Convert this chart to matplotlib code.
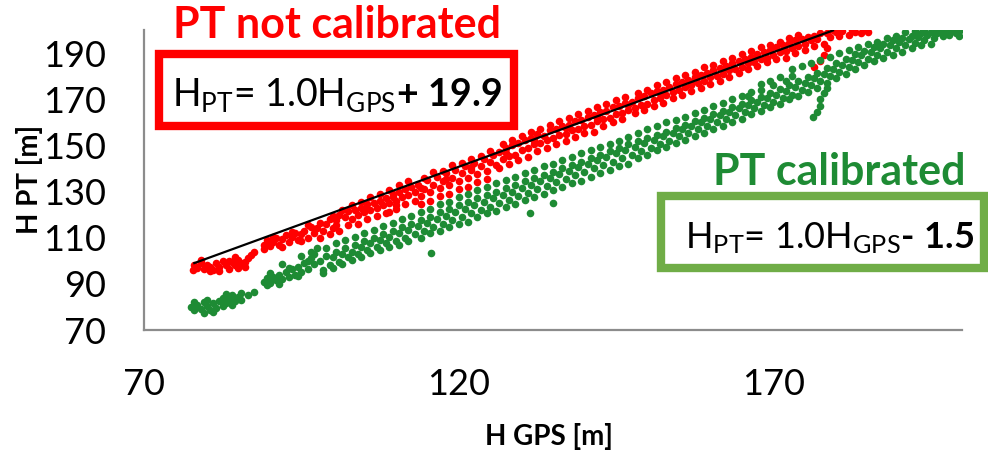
import matplotlib
matplotlib.use("Agg")
import matplotlib.pyplot as plt
from matplotlib.patches import Rectangle

# ---------------- data ----------------
red_points = [
    (78,98),(78.5,97),(79,99),(79.5,96.5),(80,98),(80.5,97.5),(81,96),(81.5,99),(82,97.5),(82.5,100),
    (83,98),(83.5,96.5),(84,99.5),(84.5,98),(85,100.5),(85.5,99),(86,97.5),(86.5,101),(87,102.5),(87.5,104),
    (79,100.5),(80.5,95.5),(82,95.5),(83.5,100),(85,97),(86,99.5),(77.8,96),(84.5,101.5),
    (89,107),(89.5,109),(90,106.5),(90.5,108),(91,110),(91.5,107),(92,109.5),(92.5,111),(93,108),(93.5,110.5),
    (94,112),(94.5,109),(95,111.5),(95.5,113),(96,110),(96.5,114.5),(97,112),
    (89,105),(90.5,110.5),(92,106),(93.5,112.5),(95,108.5),(96,115.5),(97.5,114),
    (98.5,113),(99,116),(99.5,118),(100,114),(100.5,117.5),(101,120),
    (102,119),(102.5,121.5),(103,118),(103.5,122),(104,120),(104.5,123),(105,121),(105.5,124.5),(106,122),
    (106.5,125),(107,123),(107.5,126),(108,124),(108.5,127),(109,125),(109.5,129),(110,126),(110.5,130),
    (111,127.5),(111.5,131),(112,128.5),(112.5,132),(113,130),(109,121),(110,122.5),
    (98,110),(99.5,111.5),(101,113),(102.5,115.5),(104,116),(105.5,118),(107,119.5),(108.5,120.5),
    (110,124),(111.5,124.5),(113,126),
    (98,116.5),(100,119.5),(101.5,122),(103,124),(104.5,125.5),(106,127.5),(107.5,129),(109,130.5),
    (110.5,133),(112,134.5),
    (113.5,133),(114,128),(114.5,131),(115,135),(115.5,130),(116,133),(116.5,136.5),(117,131.5),(117.5,134.5),
    (118,138),(118.5,133),(119,136),(119.5,139.5),(120,134.5),(120.5,138),(121,141),(121.5,136),(122,139.5),
    (122.5,142.5),(123,137.5),(123.5,141),(124,144),(124.5,139),(125,143),(125.5,146),
    (114,124.5),(115.5,126),(117,128),(118.5,129),(120,131),(121.5,132),(123,134),(124.5,135.5),
    (114.5,136),(116,138.5),(117.5,139),(119,141.5),(120.5,142.5),(122,144),(123.5,145.5),(125,147.5),
    (126,141.5),(126.5,147),(127,144),(127.5,149),(128,145.5),(128.5,150),(129,146),(129.5,151),(130,148),
    (130.5,152.5),(131,149),(131.5,153),(132,150.5),(132.5,155),(133,151),(133.5,154),(134,152.5),(134.5,156.5),
    (135,153),(135.5,157),(136,154.5),(136.5,158.5),(137,155),(137.5,159),(138,156.5),(138.5,160.5),(139,157),
    (139.5,161),(140,158.5),(140.5,162.5),(141,159),(141.5,163),(142,160.5),(142.5,164.5),(143,161.5),
    (143.5,165),(144,162),(144.5,166.5),(145,163.5),(145.5,167),(146,164),(146.5,168.5),(147,165.5),
    (126.5,140),(128,142),(129.5,143.5),(131,145),(132.5,147.5),(134,149),(135.5,150.5),(137,152),
    (138.5,153.5),(140,155.5),(141.5,156),(143,158.5),(144.5,160),(146,161.5),
    (127,150.5),(128.5,152.5),(130,154),(131.5,156),(133,157),(134.5,159),(136,160.5),(137.5,162),
    (139,163.5),(140.5,165),(142,166.5),(143.5,168),(145,169.5),(146.5,171),
    (147.5,169),(148,166),(148.5,170.5),(149,167.5),(149.5,171.5),(150,168),(150.5,172.5),(151,169.5),
    (151.5,173.5),(152,170.5),(152.5,174),(153,172),(153.5,175.5),(154,173),(154.5,176.5),(155,174),
    (155.5,177.5),(156,175.5),(156.5,178.5),(157,176),(157.5,179.5),(158,177),(158.5,180.5),(159,178),
    (159.5,181.5),(160,179.5),(160.5,182.5),(161,180),(161.5,183.5),(162,181),(162.5,184.5),(163,182.5),
    (163.5,185.5),(164,183),(164.5,186.5),(165,184),(165.5,187.5),(166,185.5),(166.5,188.5),(167,186),
    (167.5,189.5),(168,187.5),(168.5,190.5),(169,188),(169.5,191.5),(170,189),(170.5,192.5),(171,190.5),
    (171.5,193.5),(172,191),(172.5,194.5),(173,192),(173.5,195.5),(174,193),(174.5,196),(175,194),
    (175.5,197),(176,195.5),(176.5,197.5),(177,196),
    (148,164),(149.5,165.5),(151,167),(152.5,168.5),(154,170.5),(155.5,172),(157,173.5),(158.5,175),
    (160,176.5),(161.5,178),(163,179.5),(164.5,181.5),(166,183),(167.5,184.5),(169,186),(170.5,187.5),
    (148.5,172.5),(150,174),(151.5,176),(153,177.5),(154.5,179),(156,180.5),(157.5,182),(159,184),
    (160.5,185),(162,186.5),(163.5,188),(165,189.5),(166.5,191),(168,192.5),(169.5,193.5),(171,195),
    (172.5,196.5),(174,198),
    (100.5,115.5),(105,122.5),(109.5,127.5),(114,131.5),(118,135.5),(122,140.5),(127.5,146.5),(132,152.5),
    (137,157.5),(142,162.5),(147,167.5),(152,172.5),(157,177.5),(162,183),(167,188),(171.5,191.5),
    (176.5,184),(177.5,186.5),(178,189),(178.5,192),(178,194),
    (172,188),(173.5,190),(175,191.5),(176.5,193),(177.5,198.5),(179.5,199.8),(182.5,200),(184.5,200),
    (178.5,198.5),(179,197),(180,199),(180.5,197.5),(181,199.5),(182,198),(183,199),(184,198.5),(185,199),
]

green_points = [
    (77.5,80),(78,78.5),(78.5,81),(79,79),(79.5,82),(80,80.5),(80.5,78.5),(81,81.5),(81.5,79.5),(82,82.5),
    (82.5,84),(83,81.5),(83.5,83),(84,85),(84.5,82.5),(85,84.5),(85.5,86),(86.5,85),(87.5,86.5),
    (78,82),(79.5,77.5),(81,78),(82.5,80.5),(84,81),(85.5,83),(80,83),(83,85.5),
    (89,91),(89.5,92.5),(90,90.5),(90.5,93),(91,91.5),(91.5,94),(92,92),(92.5,95),(93,93),(93.5,96.5),
    (94,94),(94.5,97.5),(95,95),(95.5,99),(96,96.5),(96.5,101),(97,98.5),(97,103),(97.5,105.5),(96.5,104),
    (90,94.5),(91.5,90),(93,97),(94.5,93.5),(96,100),(92,98.5),(95,102),(89.5,89.5),
    (98,100),(98.5,96),(99,102),(99.5,98),(100,101.5),(100.5,104),(101,99.5),(101.5,103),(102,105.5),
    (102.5,101.5),(103,104),(103.5,107),(104,103),(104.5,106),(105,108.5),(105.5,104.5),(106,107.5),
    (106.5,110),(107,106),(107.5,109),(108,111.5),(108.5,107.5),(109,110.5),(109.5,113),(110,108.5),
    (110.5,112),(111,114.5),(111.5,110),(112,113.5),(112.5,116),(113,111.5),
    (98.5,94.5),(100,97),(101.5,98.5),(103,100.5),(104.5,101.5),(106,103.5),(107.5,104.5),(109,106),
    (110.5,107),(112,108.5),
    (99,105.5),(100.5,107.5),(102,109),(103.5,110.5),(105,112),(106.5,113.5),(108,115),(109.5,116.5),
    (111,118),(112.5,119.5),
    (113.5,115),(114,117.5),(114.5,113),(115,116.5),(115.5,119),(115.6,103.5),(116,114.5),(116.5,118),
    (117,121),(117.5,116),(118,119.5),(118.5,122.5),(119,117.5),(119.5,121),(120,124),(120.5,119),
    (121,122.5),(121.5,125.5),(122,120.5),(122.5,124),(123,127),(123.5,122),(124,125.5),(124.5,128.5),
    (125,123.5),(125.5,127),(126,130),(126.5,125),(127,128.5),(127.5,131.5),(128,126.5),
    (128.5,130),(129,133),(129.5,128),(130,131.5),(130.5,134.5),(131,129.5),(131.4,120.6),(131.5,133),
    (132,136),(132.5,131),(133,134.5),(133.5,137),(134,132.5),(134.5,136),(135,138.5),(135,125),
    (135.5,134),(136,137.5),(136.5,140),(137,135.5),(137.5,139),(138,141.5),(138.5,137),(139,140.5),
    (139.5,143),(140,138.5),(140.5,142),(141,144.5),(141.5,140),(142,143.5),(142.5,146),(143,141.5),
    (143.5,145),(144,147.5),(144.5,143),(145,146.5),(145.5,149),(146,144.5),(146.5,148),(147,150.5),
    (114,110),(115.5,112),(117,113),(118.5,114.5),(120,116),(121.5,117),(123,119),(124.5,120.5),
    (126,121.5),(127.5,123.5),(129,124.5),(130.5,126.5),(132,127.5),(133.5,129),(135,130.5),(136.5,132),
    (138,133.5),(139.5,134.5),(141,136.5),(142.5,138),(144,139.5),(145.5,141),(147,142),
    (114,121),(115.5,122.5),(117,124.5),(118.5,125.5),(120,127.5),(121.5,129),(123,130.5),(124.5,132),
    (126,133.5),(127.5,135),(129,136.5),(130.5,138),(132,139.5),(133.5,141),(135,142),(136.5,143.5),
    (138,145),(139.5,146.5),(141,148),(142.5,149.5),(144,150.5),(145.5,152),(147,153.5),
    (147.5,146),(148,149.5),(148.5,152),(149,147.5),(149.5,151),(150,153),(150.5,149),(151,152.5),
    (151.5,154.5),(152,150.5),(152.5,154),(153,156),(153.5,152),(154,155.5),(154.5,157.5),(155,154),
    (155.5,157),(156,159),(156.5,155.5),(157,158.5),(157.5,160.5),(158,157),(158.5,160),(159,162),
    (159.5,158.5),(160,161.5),(160.5,163.5),(161,160),(161.5,163),(162,165),(162.5,161.5),(163,164.5),
    (163.5,166.5),(164,163),(164.5,166),(165,168),(165.5,164.5),(166,167.5),(166.5,169.5),(167,166),
    (167.5,169),(168,171),(168.5,167.5),(169,170.5),(169.5,172.5),(170,169),(170.5,172),(171,174.5),
    (171.5,170.5),(172,173.5),(166,171.5),(168,174),(170,176),(172,178),(173,180),
    (148.5,144.5),(150,146),(151.5,148),(153,149.5),(154.5,151),(156,152.5),(157.5,154),(159,155.5),
    (160.5,157),(162,158.5),(163.5,160),(165,161.5),(166.5,163.5),(168,165),(169.5,166.5),(171,168),
    (148.5,155.5),(150,157),(151.5,158.5),(153,160),(154.5,161),(156,162.5),(157.5,164),(159,165.5),
    (160.5,167),(162,168.5),(163.5,170),(165,171.5),(166.5,173),(168,176.5),(169.5,178),(171,179.5),
    (172.5,176),(173,172),(173.5,175.5),(174,178),(174.5,174),(175,177),(175.5,179.5),(176,176),
    (176.5,179),(177,181.5),(177.5,178),(178,181),(178.5,183.5),(179,180),(179.5,183),(180,185.5),
    (180.5,182),(181,185),(181.5,187.5),(182,184),(182.5,187),(183,189.5),(183.5,186),(184,189),
    (184.5,191),(185,187.5),(185.5,190.5),(186,192.5),(186.5,189),(187,192),(187.5,194),(188,190.5),
    (188.5,193.5),(189,195.5),(189.5,192),(190,195),(190.5,196.5),(191,193.5),(191.5,196),(192,197.5),
    (192.5,194.5),(193,197),(193.5,198.5),(194,195.5),(194.5,198),(195,199),(195.5,196.5),(196,198.5),
    (196.5,199.5),(197,197.5),(197.5,199),(198,198),(198.5,199.5),(199,198.5),(199.5,199.5),
    (172.5,170),(174,171.5),(175.5,173),(177,175),(178.5,177),(180,179),(181.5,181),(183,183),
    (184.5,185),(186,186.5),(187.5,188),(189,189),(190.5,190.5),(192,192),(193.5,193.5),(195,194),
    (173,183),(174.5,184.5),(176,185.5),(177.5,187),(179,188.5),(180.5,190),(182,191.5),(183.5,192.5),
    (185,194),(186.5,195),(188,196.5),(189.5,197.5),(191,199),(192.5,199.5),(194,200),(196,200),
    (198,200),(199.5,197.5),
    (176.3,162.2),(177,164.5),(177.5,167),(177.5,170),(178,172.5),(178.5,175),
]

trend_x = [78, 179.5]
trend_y = [99, 199.8]

x_ticks = [70, 120, 170]
y_ticks = [70, 90, 110, 130, 150, 170, 190]

red_title = "PT not calibrated"
green_title = "PT calibrated"
red_eq = r"H$_{\mathrm{PT}}$= 1.0H$_{\mathrm{GPS}}\mathbf{+\ 19.9}$"
green_eq = r"H$_{\mathrm{PT}}$= 1.0H$_{\mathrm{GPS}}\mathbf{‐\ 1.5}$"

# ---------------- style ----------------
RED = "#FF0000"
GREEN = "#1E8B34"
GREEN_BOX = "#70AD47"
SPINE = "#8C8C8C"

plt.rcParams["font.family"] = ["Lato", "DejaVu Sans"]
plt.rcParams["mathtext.fontset"] = "custom"
plt.rcParams["mathtext.rm"] = "Lato"
plt.rcParams["mathtext.it"] = "Lato:italic"
plt.rcParams["mathtext.bf"] = "Lato:bold"

fig = plt.figure(figsize=(9.88, 4.53), dpi=100)
ax = fig.add_axes([0.1457, 0.2715, 0.8280, 0.6623])

rx = [p[0] for p in red_points]
ry = [p[1] for p in red_points]
gx = [p[0] for p in green_points]
gy = [p[1] for p in green_points]

ax.scatter(rx, ry, s=30, color=RED, linewidths=0, zorder=2)
ax.scatter(gx, gy, s=30, color=GREEN, linewidths=0, zorder=2)
ax.plot(trend_x, trend_y, color="black", lw=1.6, zorder=3)

ax.set_xlim(70, 200)
ax.set_ylim(70, 200)
ax.set_xticks(x_ticks)
ax.set_yticks(y_ticks)
ax.tick_params(axis="both", length=0, labelsize=26)
ax.tick_params(axis="x", pad=27)
ax.tick_params(axis="y", pad=27)
for s in ["top", "right"]:
    ax.spines[s].set_visible(False)
for s in ["left", "bottom"]:
    ax.spines[s].set_color(SPINE)
    ax.spines[s].set_linewidth(1.6)

fig.text(0.030, 0.603, "H PT [m]", rotation=90, ha="center", va="center",
         fontsize=20, fontweight="bold")
fig.text(0.556, 0.037, "H GPS [m]", ha="center", va="center",
         fontsize=20, fontweight="bold")

# boxes
fig.patches.append(Rectangle((0.161, 0.7219), 0.3593, 0.159, transform=fig.transFigure,
                             fill=False, edgecolor=RED, linewidth=6, zorder=5))
fig.patches.append(Rectangle((0.669, 0.4084), 0.327, 0.159, transform=fig.transFigure,
                             fill=False, edgecolor=GREEN_BOX, linewidth=6, zorder=5))

fig.text(0.175, 0.916, red_title, color=RED, fontsize=31, fontweight="bold",
         ha="left", va="baseline")
fig.text(0.174, 0.766, red_eq, color="black", fontsize=27, ha="left", va="baseline")
fig.text(0.722, 0.592, green_title, color=GREEN, fontsize=31, fontweight="bold",
         ha="left", va="baseline")
fig.text(0.693, 0.4525, green_eq, color="black", fontsize=26, ha="left", va="baseline")

fig.savefig("out.png", dpi=100)
